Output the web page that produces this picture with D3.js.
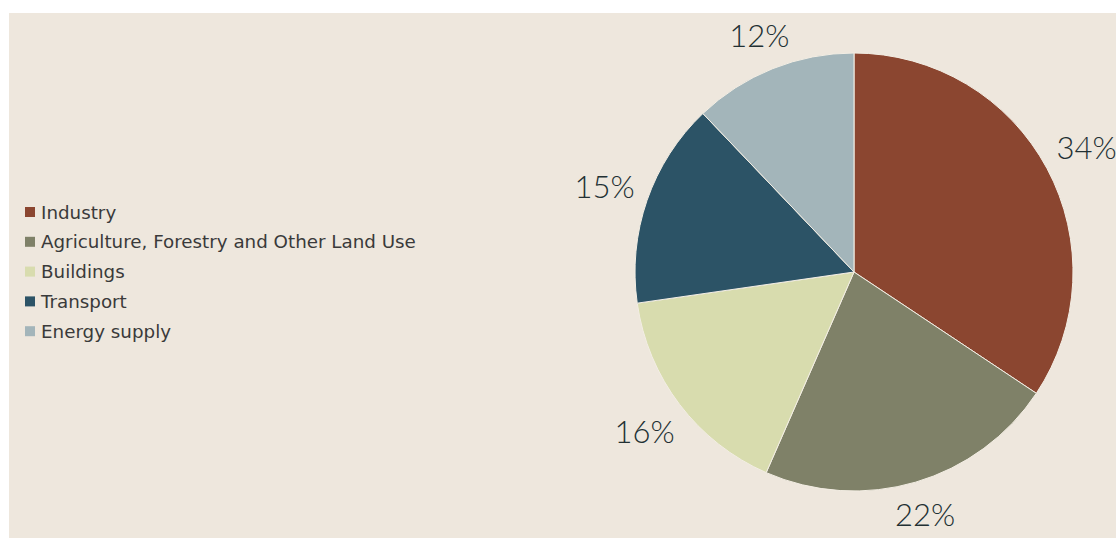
<!DOCTYPE html>
<html>
<head>
<meta charset="utf-8">
<script src="https://cdn.jsdelivr.net/npm/d3@7"></script>
<style>
  html, body { margin: 0; padding: 0; background: #ffffff; }
  svg { display: block; }
</style>
</head>
<body>
<svg id="chart" width="1116" height="538"></svg>
<script>
// Emissions share by sector
const sectors = ["Industry", "Agriculture, Forestry and Other Land Use", "Buildings", "Transport", "Energy supply"];
const shares = [34, 22, 16, 15, 12];
const colors = ["#8b4630", "#7f8168", "#d8dcae", "#2c5366", "#a3b5ba"];

const W = 1116, H = 538;
const svg = d3.select("#chart");

// panel background
svg.append("rect")
  .attr("x", 9).attr("y", 13)
  .attr("width", W - 9).attr("height", H - 13)
  .attr("fill", "#eee7dd");

const cx = 854, cy = 272, R = 219, labelGap = 231;

const data = sectors.map((s, i) => ({ sector: s, value: shares[i], color: colors[i] }));
const pie = d3.pie().sort(null).value(d => d.value);
const arcs = pie(data);
const arc = d3.arc().innerRadius(0).outerRadius(R);

const g = svg.append("g").attr("transform", `translate(${cx},${cy})`);

g.selectAll("path.slice")
  .data(arcs)
  .join("path")
  .attr("class", "slice")
  .attr("d", arc)
  .attr("fill", d => d.data.color)
  .attr("stroke", "#f3eee4")
  .attr("stroke-width", 1);

// percentage labels, pushed outward so the nearest side of each label box
// sits at the same distance from the centre
const labels = g.selectAll("text.pct")
  .data(arcs)
  .join("text")
  .attr("class", "pct")
  .attr("text-anchor", "middle")
  .attr("dominant-baseline", "central")
  .attr("font-family", "Lato, 'Open Sans', sans-serif")
  .attr("font-weight", 300)
  .attr("font-size", 31)
  .attr("fill", "#223033")
  .text(d => `${d.data.value}%`);

labels.each(function(d) {
  const box = this.getBBox();
  const a = (d.startAngle + d.endAngle) / 2;
  const ux = Math.sin(a), uy = -Math.cos(a);
  const halfH = box.height * 0.36;
  const extent = Math.abs(ux) * box.width / 2 + Math.abs(uy) * halfH;
  const r = labelGap + extent;
  d3.select(this).attr("transform", `translate(${ux * r},${uy * r})`);
});

// legend
const legend = svg.append("g").attr("transform", "translate(25,212)");
const rowH = 29.8;
const rows = legend.selectAll("g.row")
  .data(data)
  .join("g")
  .attr("class", "row")
  .attr("transform", (d, i) => `translate(0,${i * rowH})`);

rows.append("rect")
  .attr("x", 0).attr("y", -5)
  .attr("width", 10).attr("height", 10)
  .attr("fill", d => d.color);

rows.append("text")
  .attr("x", 16).attr("y", 0)
  .attr("dominant-baseline", "central")
  .attr("font-family", "'DejaVu Sans', sans-serif")
  .attr("font-size", 18.3)
  .attr("fill", "#3a3a3a")
  .text(d => d.sector);
</script>
</body>
</html>
